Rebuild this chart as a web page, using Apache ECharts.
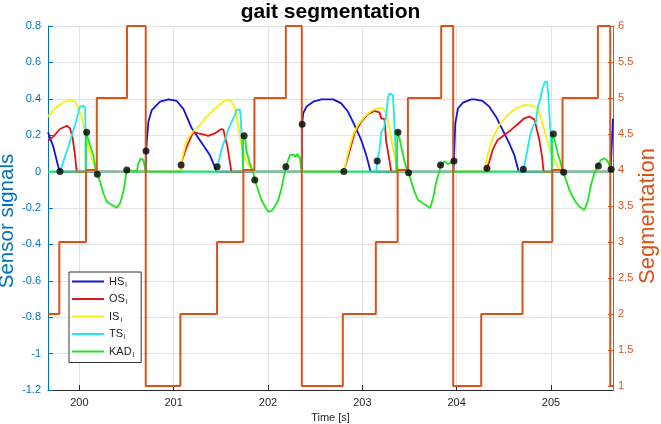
<!DOCTYPE html>
<html>
<head>
<meta charset="utf-8">
<script src="https://cdn.jsdelivr.net/npm/echarts@6/dist/echarts.min.js"></script>
<style>html,body{margin:0;padding:0;background:#fff}#c{width:661px;height:424px}</style>
</head>
<body>
<div id="c"></div>
<script>
// ---- data (time [s], value) ----
const xTicks = [200, 201, 202, 203, 204, 205];
const segTicks = [1, 1.5, 2, 2.5, 3, 3.5, 4, 4.5, 5, 5.5, 6];

const hsData = [[199.668,0.216],[199.724,0.137],[199.777,0.027],[199.795,0],[200.703,0],[200.707,0.113],[200.732,0.274],[200.768,0.338],[200.856,0.384],[200.944,0.397],[201.033,0.388],[201.103,0.345],[201.192,0.238],[201.312,0.146],[201.383,0.091],[201.436,0.027],[201.453,0],[202.358,0],[202.362,0.26],[202.373,0.32],[202.408,0.357],[202.479,0.384],[202.567,0.397],[202.691,0.397],[202.776,0.375],[202.847,0.33],[202.917,0.256],[202.988,0.174],[203.041,0.091],[203.087,0],[203.964,0],[203.971,0.058],[203.985,0.265],[204.014,0.348],[204.067,0.379],[204.155,0.397],[204.187,0.397],[204.275,0.388],[204.346,0.357],[204.417,0.302],[204.487,0.229],[204.558,0.155],[204.611,0.091],[204.657,0],[205.630,0],[205.640,0.1],[205.657,0.29]];

const osData = [[199.668,0.17],[199.724,0.192],[199.795,0.234],[199.866,0.252],[199.901,0.238],[199.930,0.183],[199.954,0.091],[199.972,0],[201.079,0],[201.086,0.058],[201.139,0.137],[201.206,0.216],[201.259,0.21],[201.315,0.205],[201.365,0.196],[201.436,0.21],[201.506,0.234],[201.528,0.229],[201.542,0.219],[201.570,0.137],[201.595,0.055],[201.612,0],[202.804,0],[202.864,0.11],[202.917,0.21],[202.988,0.274],[203.059,0.315],[203.129,0.333],[203.182,0.326],[203.200,0.293],[203.235,0.289],[203.253,0.164],[203.278,0.091],[203.306,0],[204.311,0],[204.321,0.018],[204.346,0.055],[204.381,0.119],[204.434,0.174],[204.505,0.201],[204.576,0.229],[204.646,0.26],[204.717,0.293],[204.770,0.302],[204.823,0.287],[204.847,0.238],[204.876,0.174],[204.905,0.082],[204.922,0],[205.657,0]];

const isData = [[199.668,0.302],[199.742,0.348],[199.830,0.381],[199.901,0.393],[199.954,0.384],[199.989,0.348],[200.025,0.302],[200.078,0.174],[200.132,0.073],[200.167,0.018],[200.177,0],[201.079,0],[201.086,0.064],[201.139,0.174],[201.209,0.222],[201.280,0.256],[201.330,0.29],[201.436,0.345],[201.524,0.385],[201.577,0.393],[201.612,0.386],[201.648,0.35],[201.683,0.256],[201.718,0.146],[201.754,0.073],[201.807,0.027],[201.842,0],[202.804,0],[202.847,0.1],[202.900,0.201],[202.953,0.256],[203.023,0.302],[203.094,0.333],[203.165,0.348],[203.218,0.348],[203.253,0.32],[203.288,0.238],[203.324,0.128],[203.359,0.045],[203.394,0],[204.293,0],[204.328,0.091],[204.381,0.183],[204.452,0.256],[204.540,0.311],[204.629,0.348],[204.717,0.366],[204.805,0.362],[204.858,0.348],[204.894,0.293],[204.947,0.192],[205.000,0.1],[205.053,0.045],[205.106,0],[205.657,0]];

const tsData = [[199.668,0],[199.795,0],[199.883,0.137],[199.954,0.256],[200.007,0.357],[200.042,0.362],[200.063,0.35],[200.068,0],[201.453,0],[201.506,0.119],[201.577,0.229],[201.648,0.311],[201.665,0.338],[201.701,0.342],[201.712,0.293],[201.726,0.128],[201.736,0],[203.147,0],[203.158,0.058],[203.182,0.119],[203.200,0.219],[203.229,0.238],[203.253,0.311],[203.271,0.403],[203.288,0.43],[203.306,0.439],[203.324,0.421],[203.335,0.311],[203.349,0.164],[203.359,0],[204.706,0],[204.752,0.128],[204.788,0.219],[204.816,0.256],[204.841,0.274],[204.858,0.348],[204.887,0.403],[204.911,0.458],[204.936,0.494],[204.958,0.494],[204.971,0.421],[204.985,0.293],[205.000,0.164],[205.011,0],[205.657,0]];

const kadData = [[199.668,0],[200.068,0],[200.070,0.22],[200.078,0.216],[200.113,0.146],[200.148,0.091],[200.174,0.01],[200.191,-0.015],[200.220,-0.055],[200.255,-0.119],[200.291,-0.165],[200.344,-0.183],[200.397,-0.198],[200.432,-0.174],[200.467,-0.11],[200.495,-0.019],[200.503,0.009],[200.513,0],[200.609,0],[200.626,0.045],[200.651,0.073],[200.679,0.064],[200.697,0.073],[200.702,0.073],[200.704,0],[201.736,0],[201.738,0.2],[201.747,0.197],[201.761,0.174],[201.771,0.11],[201.789,0.082],[201.807,0.045],[201.824,0.02],[201.842,0],[201.860,-0.046],[201.895,-0.101],[201.930,-0.156],[201.967,-0.192],[202.002,-0.22],[202.037,-0.216],[202.073,-0.192],[202.108,-0.156],[202.143,-0.092],[202.171,-0.019],[202.189,0.027],[202.214,0.064],[202.232,0.091],[202.267,0.095],[202.291,0.08],[202.312,0.097],[202.338,0.073],[202.355,0.073],[202.358,0],[203.368,0],[203.370,0.22],[203.377,0.216],[203.394,0.183],[203.420,0.119],[203.447,0.055],[203.476,0.005],[203.490,-0.006],[203.518,-0.055],[203.553,-0.11],[203.589,-0.156],[203.642,-0.174],[203.695,-0.192],[203.720,-0.2],[203.749,-0.147],[203.784,-0.055],[203.819,0.005],[203.829,0.036],[203.872,0.058],[203.908,0.04],[203.935,0.051],[203.962,0.05],[203.964,0],[205.009,0],[205.011,0.21],[205.025,0.207],[205.043,0.164],[205.070,0.1],[205.099,0.055],[205.123,0],[205.134,-0.004],[205.159,-0.046],[205.194,-0.101],[205.247,-0.156],[205.300,-0.192],[205.353,-0.211],[205.388,-0.165],[205.424,-0.073],[205.459,-0.009],[205.488,0.027],[205.502,0.031],[205.530,0.064],[205.565,0.073],[205.601,0.058],[205.619,0.036],[205.628,0.03],[205.629,0],[205.657,0]];

// segmentation state: value holds from this time on
const segData = [[199.668,2],[199.788,3],[200.071,4],[200.185,5],[200.506,6],[200.704,1],[201.071,2],[201.460,3],[201.739,4],[201.856,5],[202.189,6],[202.358,1],[202.793,2],[203.143,3],[203.374,4],[203.483,5],[203.836,6],[203.963,1],[204.260,2],[204.698,3],[205.013,4],[205.122,5],[205.497,6],[205.628,1],[205.657,1]];

const eventData = [[199.795,0],[200.078,0.216],[200.191,-0.015],[200.503,0.009],[200.707,0.113],[201.079,0.036],[201.461,0.027],[201.747,0.197],[201.860,-0.046],[202.189,0.027],[202.362,0.26],[202.804,0],[203.158,0.058],[203.377,0.216],[203.490,-0.006],[203.829,0.036],[203.971,0.058],[204.321,0.018],[204.706,0.013],[205.025,0.207],[205.134,-0.004],[205.502,0.031],[205.637,0.013]];

const legendNames = ['HS_l', 'OS_l', 'IS_l', 'TS_l', 'KAD_l'];
const seriesColors = ['#1414d8', '#e41414', '#f2f20a', '#1ee8f0', '#1ee61e'];
const sensorData = [hsData, osData, isData, tsData, kadData];

const LEFT_C = '#0072BD', RIGHT_C = '#D95319', FONT = 'Liberation Sans, Arial, sans-serif';

const chart = echarts.init(document.getElementById('c'), null, {renderer: 'canvas'});
const series = sensorData.map((d, i) => ({
  name: legendNames[i], type: 'line', data: d, yAxisIndex: 0,
  symbol: 'none', showSymbol: false, lineStyle: {width: 1.8, color: seriesColors[i]},
  itemStyle: {color: seriesColors[i]}, animation: false, z: 2
}));
series.push({
  name: 'seg', type: 'line', data: segData, yAxisIndex: 1, step: 'end',
  symbol: 'none', lineStyle: {width: 2, color: RIGHT_C}, itemStyle: {color: RIGHT_C}, animation: false, z: 3
});
series.push({
  name: 'events', type: 'scatter', data: eventData, yAxisIndex: 0,
  symbol: 'circle', symbolSize: 7, itemStyle: {color: '#000'}, animation: false, z: 4
});

chart.setOption({
  animation: false,
  textStyle: {fontFamily: FONT},
  title: {
    text: 'gait segmentation', left: 'center', top: -3,
    textStyle: {fontSize: 21, fontWeight: 'bold', color: '#000', fontFamily: FONT}
  },
  grid: {left: 48, right: 48, top: 26, bottom: 34, containLabel: false, outerBoundsMode: 'none'},
  legend: {
    data: legendNames, orient: 'vertical', left: 69, top: 272,
    icon: 'rect', itemWidth: 32, itemHeight: 2, itemGap: 5,
    padding: [4, 7, 4, 3], borderColor: '#333', borderWidth: 1, backgroundColor: '#fff',
    formatter: n => '{m|' + n.split('_')[0] + '}{s|l}',
    textStyle: {
      rich: {
        m: {fontSize: 11, color: '#222', fontFamily: FONT},
        s: {fontSize: 7, color: '#222', fontFamily: FONT, verticalAlign: 'bottom', padding: [7, 0, 0, 1]}
      }
    }
  },
  xAxis: {
    type: 'value', min: 199.668, max: 205.657,
    name: 'Time [s]', nameLocation: 'middle', nameGap: 22, nameMoveOverlap: false,
    nameTextStyle: {fontSize: 11, color: '#262626'},
    axisLine: {show: true, onZero: false, lineStyle: {color: '#262626', width: 1}},
    axisTick: {show: true, inside: true, length: 5, customValues: xTicks, lineStyle: {color: '#262626'}},
    axisLabel: {customValues: xTicks, fontSize: 11, color: '#262626', margin: 7},
    splitLine: {show: true, lineStyle: {color: '#e3e3e3', width: 1}}
  },
  yAxis: [{
    type: 'value', min: -1.2, max: 0.8, interval: 0.2, position: 'left',
    name: 'Sensor signals', nameLocation: 'middle', nameGap: 30, nameRotate: 90, nameMoveOverlap: false,
    nameTextStyle: {fontSize: 20.5, color: LEFT_C, padding: [0, 26, 0, 0]},
    axisLine: {show: true, lineStyle: {color: LEFT_C, width: 1}},
    axisTick: {show: true, inside: true, length: 5, lineStyle: {color: LEFT_C}},
    axisLabel: {fontSize: 11, color: LEFT_C, margin: 7},
    splitLine: {show: true, lineStyle: {color: '#e3e3e3', width: 1}}
  }, {
    type: 'value', min: 0.944, max: 6, position: 'right',
    name: 'Segmentation', nameLocation: 'middle', nameGap: 24, nameRotate: 90, nameMoveOverlap: false,
    nameTextStyle: {fontSize: 22, color: RIGHT_C, padding: [0, 16, 0, 0]},
    axisLine: {show: true, lineStyle: {color: RIGHT_C, width: 1}},
    axisTick: {show: true, inside: true, length: 5, customValues: segTicks, lineStyle: {color: RIGHT_C}},
    axisLabel: {customValues: segTicks, fontSize: 11, color: RIGHT_C, margin: 5},
    splitLine: {show: false}
  }],
  series: series
});
</script>
</body>
</html>
